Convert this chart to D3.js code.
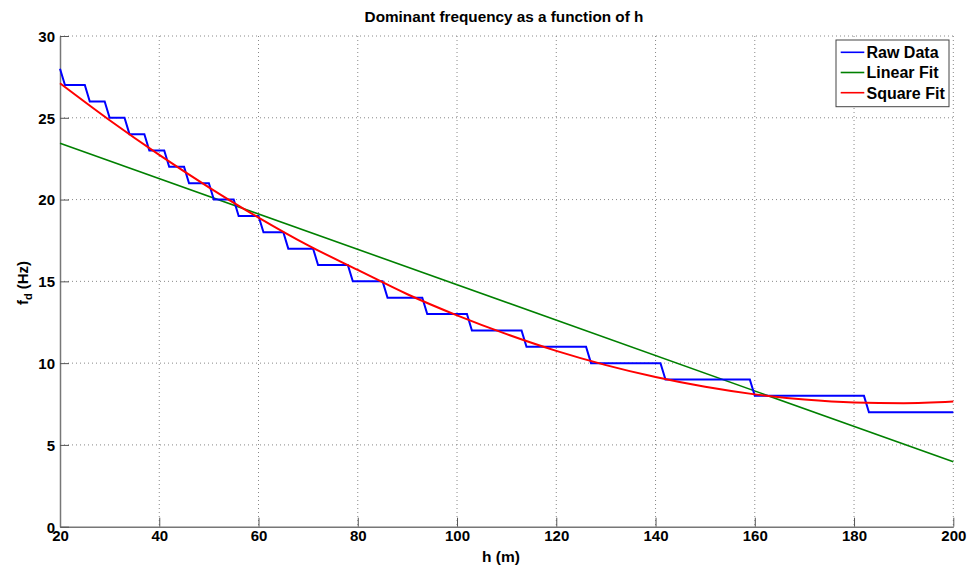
<!DOCTYPE html>
<html>
<head>
<meta charset="utf-8">
<script src="https://cdn.jsdelivr.net/npm/d3@7"></script>
<style>
  body { margin: 0; background: #fff; }
  svg { display: block; font-family: "Liberation Sans", Arial, sans-serif; }
  .tick text { font-size: 15px; font-weight: bold; fill: #000; }
</style>
</head>
<body>
<svg id="chart" width="967" height="569"></svg>
<script>
// raw data: step corners [h, f]
const rawData = [
  [20, 28], [21, 27], [25, 27], [26, 26], [29, 26], [30, 25], [33, 25], [34, 24],
  [37, 24], [38, 23], [41, 23], [42, 22], [45, 22], [46, 21], [50, 21], [51, 20],
  [55, 20], [56, 19], [60, 19], [61, 18], [65, 18], [66, 17], [71, 17], [72, 16],
  [78, 16], [79, 15], [85, 15], [86, 14], [93, 14], [94, 13], [102, 13], [103, 12],
  [113, 12], [114, 11], [126, 11], [127, 10], [141, 10], [142, 9], [159, 9], [160, 8],
  [182, 8], [183, 7], [200, 7]
];
const linearFit = [[20, 23.45], [200, 3.97]];
const squareFit = [
  [20, 27.11], [30, 24.85], [40, 22.73], [50, 20.75], [60, 18.90], [70, 17.20],
  [80, 15.70], [90, 14.21], [100, 12.92], [110, 11.77], [120, 10.75], [130, 9.88],
  [140, 9.15], [150, 8.55], [160, 8.09], [170, 7.77], [180, 7.59], [190, 7.55], [200, 7.65]
];
const xTicks = [20, 40, 60, 80, 100, 120, 140, 160, 180, 200];
const yTicks = [0, 5, 10, 15, 20, 25, 30];
const seriesNames = ["Raw Data", "Linear Fit", "Square Fit"];
const seriesColors = ["#0000ff", "#008000", "#ff0000"];

const svg = d3.select("#chart");
const plotLeft = 60, plotRight = 953.3, plotTop = 36, plotBottom = 526.7;

const x = d3.scaleLinear().domain([20, 200]).range([plotLeft, plotRight]);
const y = d3.scaleLinear().domain([0, 30]).range([plotBottom, plotTop]);

// grid
const grid = svg.append("g");
grid.selectAll(".gx").data(xTicks.slice(1)).enter().append("line")
  .attr("x1", d => x(d)).attr("x2", d => x(d))
  .attr("y1", plotTop).attr("y2", plotBottom)
  .attr("stroke", "#888").attr("stroke-width", 1).attr("stroke-dasharray", "1,3");
grid.selectAll(".gy").data(yTicks.slice(1)).enter().append("line")
  .attr("x1", plotLeft).attr("x2", plotRight)
  .attr("y1", d => y(d)).attr("y2", d => y(d))
  .attr("stroke", "#888").attr("stroke-width", 1).attr("stroke-dasharray", "1,3");

// axes
const xAxis = d3.axisBottom(x).tickValues(xTicks).tickSizeInner(-9).tickSizeOuter(0).tickPadding(4);
const yAxis = d3.axisLeft(y).tickValues(yTicks).tickSizeInner(-9).tickSizeOuter(0).tickPadding(5);

svg.append("g").attr("transform", "translate(0," + plotBottom + ")").call(xAxis)
  .call(g => g.select(".domain").attr("stroke", "#777").attr("stroke-width", 1.5))
  .call(g => g.selectAll(".tick line").attr("stroke", "#555"));
svg.append("g").attr("transform", "translate(" + plotLeft + ",0)").call(yAxis)
  .call(g => g.select(".domain").attr("stroke", "#777").attr("stroke-width", 1.5))
  .call(g => g.selectAll(".tick line").attr("stroke", "#555"))
  .call(g => g.selectAll(".tick text").attr("dy", "0.36em"));

// lines
const line = d3.line().x(d => x(d[0])).y(d => y(d[1]));
const plot = svg.append("g");
plot.append("path").datum(linearFit)
  .attr("d", line).attr("fill", "none")
  .attr("stroke", seriesColors[1]).attr("stroke-width", 1.6);
plot.append("path").datum(rawData)
  .attr("d", line).attr("fill", "none")
  .attr("stroke", seriesColors[0]).attr("stroke-width", 2);
plot.append("path").datum(squareFit)
  .attr("d", line.curve(d3.curveMonotoneX)).attr("fill", "none")
  .attr("stroke", seriesColors[2]).attr("stroke-width", 2);

// title and labels
svg.append("text").attr("x", 504).attr("y", 22)
  .attr("text-anchor", "middle").attr("font-size", 15.3).attr("font-weight", "bold")
  .text("Dominant frequency as a function of h");
svg.append("text").attr("x", 501).attr("y", 562)
  .attr("text-anchor", "middle").attr("font-size", 15.5).attr("font-weight", "bold")
  .text("h (m)");
const yl = svg.append("text")
  .attr("transform", "translate(28,283) rotate(-90)")
  .attr("text-anchor", "middle").attr("font-size", 15).attr("font-weight", "bold");
yl.append("tspan").text("f");
yl.append("tspan").attr("dy", 4).attr("font-size", 11).text("d");
yl.append("tspan").attr("dy", -4).text(" (Hz)");

// legend
const lg = svg.append("g");
lg.append("rect").attr("x", 836).attr("y", 40).attr("width", 113).attr("height", 66.7)
  .attr("fill", "#fff").attr("stroke", "#444").attr("stroke-width", 1);
seriesNames.forEach((name, i) => {
  const ly = 52.3 + i * 20.2;
  lg.append("line").attr("x1", 840.7).attr("x2", 864.3).attr("y1", ly).attr("y2", ly)
    .attr("stroke", seriesColors[i]).attr("stroke-width", 1.6);
  lg.append("text").attr("x", 866.5).attr("y", ly + 5.8)
    .attr("font-size", 16).attr("font-weight", "bold").text(name);
});
</script>
</body>
</html>
